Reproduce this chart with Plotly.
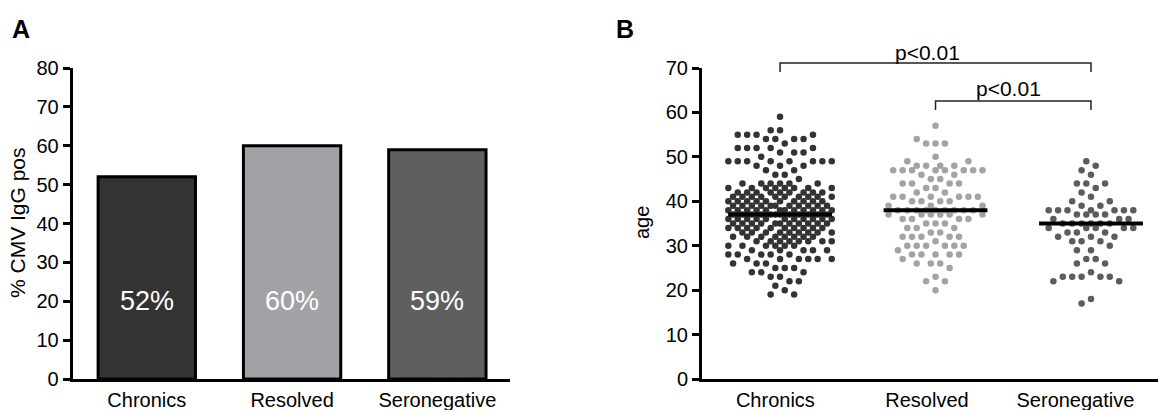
import numpy as np
import plotly.graph_objects as go

# ---------------- data ----------------
categories = ["Chronics", "Resolved", "Seronegative"]
pct_igg_pos = [52, 60, 59]
bar_labels = ["52%", "60%", "59%"]
bar_colors = ["#333333", "#a2a1a6", "#5f5f5f"]

# Panel B: age values and how many subjects share each age
chronics_age = [59, 56, 55, 54, 53, 52, 51, 50, 49, 48, 47, 46, 45, 44, 43, 42, 41, 40, 39,
                38, 37, 36, 35, 34, 33, 32, 31, 30, 29, 28, 27, 26, 25, 24, 23, 22, 21, 20, 19]
chronics_n = [1, 2, 4, 4, 1, 5, 3, 1, 8, 3, 2, 2, 1, 6, 8, 9, 10, 10, 11,
              12, 12, 11, 11, 10, 9, 8, 8, 6, 5, 5, 6, 3, 3, 3, 2, 2, 1, 1, 2]

resolved_age = [57, 54, 53, 50, 49, 48, 47, 46, 45, 44, 43, 42, 41, 40, 39, 38, 37, 36, 35,
                34, 33, 32, 31, 30, 29, 28, 27, 26, 25, 23, 22, 20]
resolved_n = [1, 1, 3, 1, 2, 4, 8, 2, 2, 4, 2, 2, 6, 4, 3, 9, 6, 4, 3,
              3, 2, 5, 1, 6, 1, 5, 1, 3, 1, 1, 2, 1]

seroneg_age = [49, 48, 47, 46, 44, 43, 42, 41, 40, 39, 38, 37, 36, 35, 34, 33, 32, 31, 30,
               29, 27, 26, 24, 23, 22, 18, 17]
seroneg_n = [1, 1, 1, 1, 3, 1, 1, 1, 2, 2, 7, 4, 3, 6, 5, 3, 3, 3, 1,
             2, 2, 2, 1, 5, 2, 1, 1]

group_colors = ["#333333", "#a3a3a3", "#5c5c5c"]
p_labels = ["p<0.01", "p<0.01"]

# ---------------- geometry ----------------
W, H = 1158, 410
FONT = "Liberation Sans, Arial, sans-serif"
FS = 20


def py(px_y):
    return 1 - px_y / H


def px(px_x):
    return px_x / W


yA_dom = [py(379), py(68)]
xA_dom = [px(72.7), px(510)]
xA_rng = [-0.51, 2.50]

xB_dom = [px(702), 1.0]
xB_rng = [-0.502, 2.431]
yB_dom = yA_dom
yB_rng = [0, 70]

pxB_per_unit = (xB_dom[1] - xB_dom[0]) * W / (xB_rng[1] - xB_rng[0])
pxB_per_year = (yB_dom[1] - yB_dom[0]) * H / (yB_rng[1] - yB_rng[0])


def xB_paper(x):
    return xB_dom[0] + (x - xB_rng[0]) / (xB_rng[1] - xB_rng[0]) * (xB_dom[1] - xB_dom[0])


def swarm(ages, counts, center, kmax, step=4.7, dmin=9.0):
    """Column-scatter layout: each point goes to the free grid slot nearest the
    centre; if none within the column width, to the least-crowded slot."""
    vals = np.repeat(ages, counts).astype(float)
    med = np.median(vals)
    order = np.argsort(np.abs(vals - med), kind="stable")
    placed = []
    out_x = np.zeros(len(vals))
    slots = sorted(range(-kmax, kmax + 1), key=lambda k: (abs(k), k))
    for idx in order:
        yv = vals[idx] * pxB_per_year
        best, best_d = None, -1
        for k in slots:
            xv = k * step
            dd = min((np.hypot(xv - a, yv - b) for a, b in placed), default=1e9)
            if dd >= dmin:
                best = k
                break
            if dd > best_d + 1e-6:
                best_d, best = dd, k
        placed.append((best * step, yv))
        out_x[idx] = center + best * step / pxB_per_unit
    return out_x, vals, med


def note(x, y, text, size=FS, color="black", angle=0):
    fig.add_annotation(x=x, y=y, xref="paper", yref="paper", text=text, showarrow=False,
                       xanchor="center", yanchor="middle", textangle=angle,
                       font=dict(family=FONT, size=size, color=color))


fig = go.Figure()

# ---------------- panel A ----------------
fig.add_trace(go.Bar(
    x=[0, 1, 2], y=pct_igg_pos, width=0.67,
    marker=dict(color=bar_colors, line=dict(color="black", width=3)),
    xaxis="x", yaxis="y", showlegend=False, hoverinfo="skip"))

for i, lab in enumerate(bar_labels):
    fig.add_annotation(x=i, y=20, xref="x", yref="y", text=lab, showarrow=False,
                       xanchor="center", yanchor="middle",
                       font=dict(family=FONT, size=27, color="white"))

# ---------------- panel B ----------------
groups = [(chronics_age, chronics_n, 11), (resolved_age, resolved_n, 10), (seroneg_age, seroneg_n, 10)]
for gi, (ages, counts, kmax) in enumerate(groups):
    xs, ys, med = swarm(ages, counts, gi, kmax)
    fig.add_trace(go.Scatter(
        x=xs, y=ys, mode="markers", xaxis="x2", yaxis="y2",
        marker=dict(size=6.5, color=group_colors[gi], line=dict(width=0)),
        showlegend=False, hoverinfo="skip"))
    fig.add_trace(go.Scatter(
        x=[gi - 0.334, gi + 0.334], y=[med, med], mode="lines", xaxis="x2", yaxis="y2",
        line=dict(color="black", width=4), showlegend=False, hoverinfo="skip"))

# significance brackets
brackets = [(0, 2, 63, 72, 927, 52), (1, 2, 101, 110, 1008, 89)]
for (a, b, ytop, ybot, tx, ty), lab in zip(brackets, p_labels):
    xa, xb = xB_paper(a), xB_paper(b)
    fig.add_shape(type="path", xref="paper", yref="paper",
                  path=f"M {xa} {py(ybot)} L {xa} {py(ytop)} L {xb} {py(ytop)} L {xb} {py(ybot)}",
                  line=dict(color="#222222", width=1.5))
    note(px(tx), py(ty), lab, size=21)

# panel letters and axis titles
note(px(20.5), py(29), "<b>A</b>", size=25)
note(px(625), py(29), "<b>B</b>", size=25)
note(px(17), py(223), "% CMV IgG pos", size=21, angle=-90)
note(px(642), py(223), "age", size=FS, angle=-90)

axis_common = dict(showgrid=False, zeroline=False, showline=True, linecolor="black",
                   automargin=False, tickfont=dict(family=FONT, size=FS, color="black"))

fig.update_layout(
    template="none",
    width=W, height=H, margin=dict(l=0, r=0, t=0, b=0, pad=0, autoexpand=False),
    paper_bgcolor="white", plot_bgcolor="white",
    font=dict(family=FONT, color="black"),
    xaxis=dict(domain=xA_dom, range=xA_rng, tickvals=[0, 1, 2], ticktext=categories,
               ticks="outside", ticklen=1, tickcolor="rgba(0,0,0,0)", linewidth=3,
               anchor="y", **axis_common),
    yaxis=dict(domain=yA_dom, range=[0, 80], tickvals=list(range(0, 81, 10)),
               ticks="outside", ticklen=7, tickwidth=2.5, tickcolor="black", linewidth=3,
               anchor="x", **axis_common),
    xaxis2=dict(domain=xB_dom, range=xB_rng, tickvals=[-0.03, 0.945, 1.9], ticktext=categories,
                ticks="outside", ticklen=1, tickcolor="rgba(0,0,0,0)", linewidth=3,
                anchor="y2", **axis_common),
    yaxis2=dict(domain=yB_dom, range=yB_rng, tickvals=list(range(0, 71, 10)),
                ticks="outside", ticklen=7, tickwidth=2.5, tickcolor="black", linewidth=3,
                anchor="x2", **axis_common),
)

fig.write_html("out.html", config={"responsive": False, "displayModeBar": False})

with open("out.html", "r", encoding="utf-8") as f:
    html = f.read()
html = html.replace("<head>", "<head><style>html,body{margin:0;padding:0;overflow:hidden;}</style>", 1)
with open("out.html", "w", encoding="utf-8") as f:
    f.write(html)
